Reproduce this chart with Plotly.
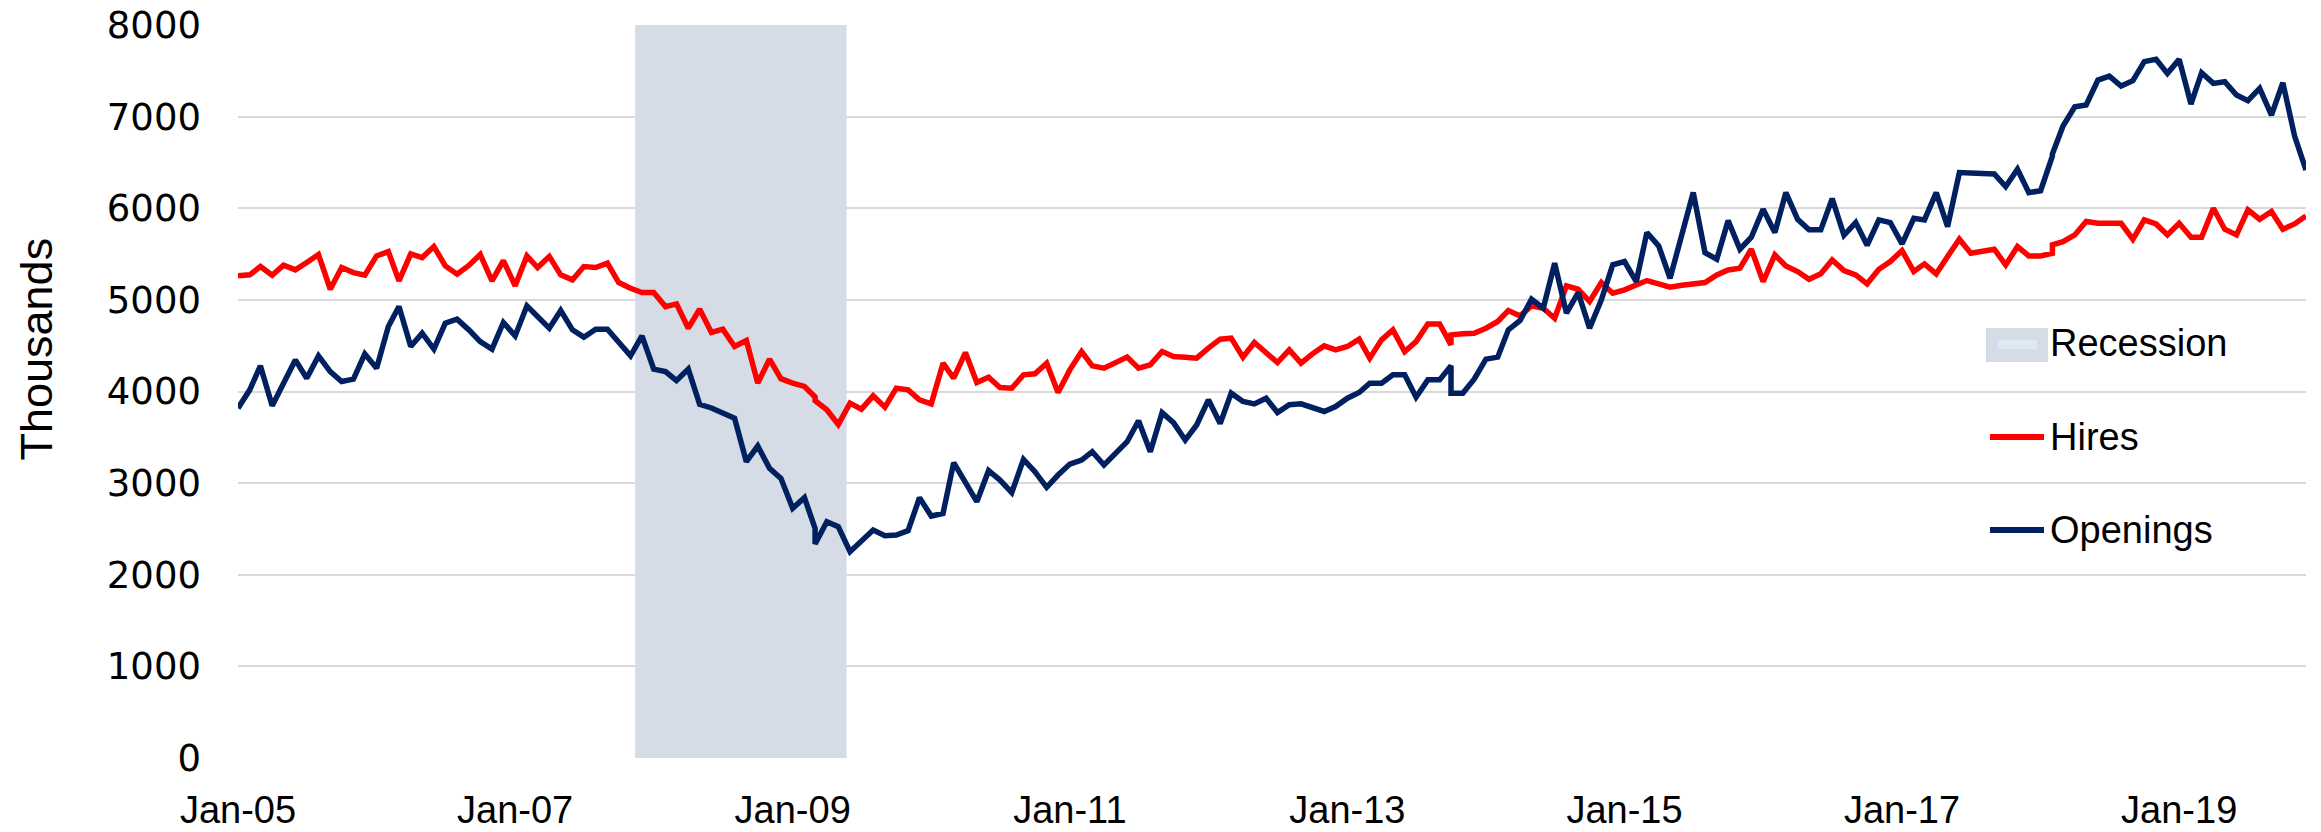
import pandas as pd
import plotly.graph_objects as go

# ---------------- data ----------------
start_month = "2005-01-01"
end_month = "2019-12-01"
# months that carry two observations in the source sheet (drawn as vertical steps)
double_months = ["2009-03-01", "2013-10-01", "2018-02-01"]

hires = [
    5262, 5273, 5364, 5269, 5378, 5327, 5407, 5495, 5116, 5353, 5298, 5269,
    5480, 5527, 5207, 5502, 5462, 5582, 5371, 5280, 5375, 5495, 5207, 5429,
    5153, 5480, 5353, 5473, 5273, 5218, 5364, 5353, 5400, 5189, 5127, 5080,
    5080, 4927, 4956, 4691, 4898, 4644, 4680, 4491, 4556, 4091, 4353, 4140,
    4091, 4055, 3940, 3900, 3800, 3640, 3873, 3807, 3953, 3829, 4036, 4018, 3909,
    3865, 4309, 4145, 4425, 4098, 4156, 4044, 4036, 4182, 4193, 4309, 3989,
    4236, 4436, 4280, 4255, 4310, 4375, 4255, 4291, 4436, 4382, 4375, 4364,
    4473, 4571, 4582, 4375, 4535, 4425, 4316, 4455, 4309, 4411, 4498, 4455,
    4491, 4571, 4364, 4564, 4673, 4436, 4545, 4738, 4738, 4509, 4618, 4630, 4636,
    4691, 4764, 4884, 4825, 4935, 4909, 4800, 5153, 5116, 4982, 5189, 5073,
    5109, 5160, 5211, 5175, 5138, 5160, 5175, 5189, 5273, 5327, 5345, 5553,
    5200, 5491, 5371, 5309, 5225, 5284, 5436, 5320, 5273, 5175, 5335, 5418,
    5538, 5309, 5393, 5284, 5473, 5662, 5509, 5530, 5553, 5382, 5582, 5480,
    5480, 5509, 5600, 5636, 5709, 5855, 5836, 5836, 5836, 5662, 5873, 5829, 5709,
    5836, 5684, 5684, 6000, 5771, 5709, 5982, 5880, 5964, 5771, 5829, 5916,
]

openings = [
    3818, 4018, 4280, 3844, 4091, 4345, 4145, 4389, 4218, 4109, 4135, 4411,
    4255, 4709, 4927, 4491, 4636, 4462, 4745, 4789, 4673, 4545, 4462, 4753,
    4607, 4935, 4818, 4691, 4884, 4673, 4593, 4680, 4680, 4545, 4389, 4607,
    4244, 4218, 4120, 4244, 3860, 3820, 3770, 3707, 3234, 3405, 3161, 3052,
    2725, 2841, 2506, 2335, 2579, 2525, 2252, 2361, 2488, 2426, 2434, 2481, 2841,
    2641, 2670, 3223, 3005, 2797, 3136, 3034, 2896, 3259, 3125, 2954, 3088,
    3208, 3252, 3343, 3198, 3320, 3452, 3681, 3343, 3769, 3660, 3470, 3634,
    3909, 3650, 3982, 3891, 3865, 3927, 3771, 3855, 3865, 3818, 3782, 3836,
    3927, 3989, 4091, 4091, 4182, 4182, 3938, 4127, 4127, 4280, 3982, 3982, 4135,
    4353, 4375, 4673, 4775, 5007, 4909, 5400, 4855, 5080, 4691, 5000, 5382,
    5418, 5200, 5735, 5589, 5236, 5700, 6171, 5516, 5444, 5865, 5553, 5684,
    5989, 5735, 6171, 5880, 5764, 5764, 6105, 5705, 5844, 5596, 5873, 5844,
    5611, 5891, 5873, 6171, 5800, 6389, 6382, 6378, 6375, 6236, 6425, 6170,
    6191, 6570, 6592, 6897, 7108, 7127, 7399, 7443, 7334, 7392, 7600, 7625, 7472,
    7625, 7137, 7479, 7363, 7381, 7236, 7174, 7308, 7017, 7370, 6788, 6417,
]

recession_period = ["2007-11-13", "2009-05-23"]
y_max = 8000

tick_dates = ["2005-01-01", "2007-01-01", "2009-01-01", "2011-01-01",
              "2013-01-01", "2015-01-01", "2017-01-01", "2019-01-01"]
tick_labels = ["Jan-05", "Jan-07", "Jan-09", "Jan-11",
               "Jan-13", "Jan-15", "Jan-17", "Jan-19"]
y_ticks = [0, 1000, 2000, 3000, 4000, 5000, 6000, 7000, 8000]
legend_names = ["Recession", "Hires", "Openings"]

# ---------------- build x (dates) ----------------
dates = []
dbl = set(pd.to_datetime(double_months))
for d in pd.date_range(start_month, end_month, freq="MS"):
    dates.append(d)
    if d in dbl:
        dates.append(d)

FONT = "Liberation Sans, Arial, sans-serif"
NUMFONT = "DejaVu Sans, Verdana, sans-serif"
NAVY = "#002060"
RED = "#FF0000"
SHADE = "#D6DCE5"
LW = 5.5

fig = go.Figure()

r0, r1 = recession_period
fig.add_trace(go.Scatter(
    x=[r0, r0, r1, r1, r0], y=[0, y_max, y_max, 0, 0],
    mode="lines", fill="toself", fillcolor=SHADE,
    line=dict(width=0, color=SHADE), name=legend_names[0],
    hoverinfo="skip", showlegend=False,
))
fig.add_trace(go.Scatter(
    x=dates, y=hires, mode="lines", name=legend_names[1],
    line=dict(color=RED, width=LW), showlegend=False,
))
fig.add_trace(go.Scatter(
    x=dates, y=openings, mode="lines", name=legend_names[2],
    line=dict(color=NAVY, width=LW), showlegend=False,
))

W, H = 2321, 832
L, R, T, B = 238, 15, 25, 74
pw, ph = W - L - R, H - T - B


def px(xpix):
    return (xpix - L) / pw


def py(ypix):
    return (H - B - ypix) / ph


# ---- manual legend (pixel-placed keys, real text labels) ----
shapes = [
    dict(type="rect", xref="paper", yref="paper",
         x0=px(1986), x1=px(2048), y0=py(362), y1=py(328),
         fillcolor=SHADE, line=dict(width=0), layer="above"),
    dict(type="rect", xref="paper", yref="paper",
         x0=px(1998), x1=px(2037), y0=py(349), y1=py(340),
         fillcolor="#DEE9F6", line=dict(width=0), layer="above"),
    dict(type="line", xref="paper", yref="paper",
         x0=px(1990), x1=px(2044), y0=py(437), y1=py(437),
         line=dict(color=RED, width=6), layer="above"),
    dict(type="line", xref="paper", yref="paper",
         x0=px(1990), x1=px(2044), y0=py(530), y1=py(530),
         line=dict(color=NAVY, width=6), layer="above"),
]
annotations = [
    dict(text="Thousands", textangle=-90, showarrow=False,
         xref="paper", yref="paper",
         x=px(35.5), y=py(349), xanchor="center", yanchor="middle",
         font=dict(family=FONT, size=45, color="black")),
]
for name, yc in zip(legend_names, [343, 437, 530]):
    annotations.append(dict(
        text=name, showarrow=False, xref="paper", yref="paper",
        x=px(2048), y=py(yc), xanchor="left", yanchor="middle",
        font=dict(family=FONT, size=38, color="black")))

fig.update_layout(
    width=W, height=H,
    margin=dict(l=L, r=R, t=T, b=B, autoexpand=False),
    paper_bgcolor="white", plot_bgcolor="white",
    font=dict(family=FONT, size=38, color="black"),
    showlegend=False,
    hovermode=False,
    xaxis=dict(
        type="date", range=[start_month, end_month], automargin=False,
        tickmode="array", tickvals=tick_dates, ticktext=tick_labels,
        showgrid=False, zeroline=False, showline=False, ticks="",
        ticklabelstandoff=26,
        tickfont=dict(family=FONT, size=38, color="black"),
    ),
    yaxis=dict(
        range=[0, y_max], tickmode="array", tickvals=y_ticks, automargin=False,
        showgrid=True, gridcolor="#D9D9D9", gridwidth=2,
        zeroline=False, showline=False, ticks="",
        ticklabelstandoff=36,
        tickfont=dict(family=NUMFONT, size=37, color="black"),
    ),
    shapes=shapes,
    annotations=annotations,
)

fig.write_html("out.html",
               config={"displayModeBar": False, "staticPlot": True},
               post_script="document.body.style.margin='0px';")
